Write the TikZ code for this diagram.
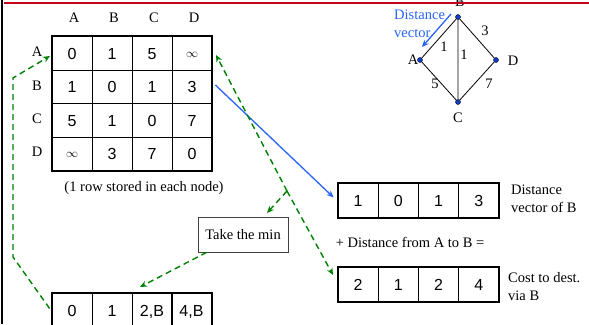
\documentclass[tikz,border=0pt]{standalone}
\usepackage{fontspec}
\setmainfont{Liberation Serif}
\newfontfamily\arialf{Liberation Sans}
\usetikzlibrary{arrows.meta}
\definecolor{dgreen}{RGB}{0,128,0}
\definecolor{vblue}{RGB}{40,100,250}
\definecolor{dotblue}{RGB}{20,60,200}
\definecolor{topred}{RGB}{195,0,30}
\newcommand{\infsym}{\raisebox{2pt}{\fontsize{12}{12}\selectfont$\infty$}}
\begin{document}
\begin{tikzpicture}[x=1pt,y=-1pt,
  lab/.style={font=\fontsize{14.5}{18}\selectfont, inner sep=0},
  cell/.style={draw, line width=0.8pt, minimum width=40pt, minimum height=33.5pt, inner sep=0, text height=11.5pt, text depth=0pt, font=\arialf\fontsize{16}{18}\selectfont},
  vcell/.style={cell, minimum width=40.25pt, minimum height=35pt},
  gd/.style={draw=dgreen, line width=1.4pt, dash pattern=on 6pt off 4pt, -{Stealth[length=7pt,width=6pt]}},
  bl/.style={draw=vblue, line width=1.3pt, -{Stealth[length=7pt,width=6pt]}},
  gnode/.style={circle, fill=dotblue, draw=black, line width=0.4pt, inner sep=0, minimum size=5pt},
  edge/.style={draw=black, line width=0.8pt}]
\useasboundingbox (0,0) rectangle (589,324);

% matrix
\foreach \v [count=\j] in {0,1,5,\infsym}
  \node[cell] (mA\j) at ({32+40*\j},53.5) {\v};
\foreach \v [count=\j] in {1,0,1,3}
  \node[cell] (mB\j) at ({32+40*\j},87) {\v};
\foreach \v [count=\j] in {5,1,0,7}
  \node[cell] (mC\j) at ({32+40*\j},120.5) {\v};
\foreach \v [count=\j] in {\infsym,3,7,0}
  \node[cell] (mD\j) at ({32+40*\j},154) {\v};
\draw[line width=2pt] (mA1.north west) rectangle (mD4.south east);
\foreach \c [count=\j] in {A,B,C,D}
  \node[lab] (h\c) at ({34+40*\j},18) {\c};
\foreach \c/\y in {A/52,B/86,C/119,D/152}
  \node[lab] (r\c) at (37,\y) {\c};
\node[lab] (cap) at (144,188) {(1 row stored in each node)};

% vector of B
\foreach \v [count=\j] in {1,0,1,3}
  \node[vcell] (v\j) at ({317.9+40.25*\j},200.5) {\v};
\draw[line width=2pt] (v1.north west) rectangle (v4.south east);
\node[lab, anchor=west, align=left] (vtxt) at (511,199) {Distance\\vector of B};

\node[lab] (plus) at (410,242) {+ Distance from A to B =};

% cost to dest
\foreach \v [count=\j] in {2,1,2,4}
  \node[vcell] (c\j) at ({317.9+40.25*\j},284.5) {\v};
\draw[line width=2pt] (c1.north west) rectangle (c4.south east);
\node[lab, anchor=west, align=left] (ctxt) at (508,287) {Cost to dest.\\via B};

% take the min
\node[lab, draw=black!75, line width=0.7pt, minimum width=90pt, minimum height=35pt] (tm) at (243,234.5) {Take the min};

% result row
\foreach \v/\x [count=\j] in {0/72,1/112,{2,B}/152,{4,B}/191.5}
  \node[vcell, minimum width=40pt] (b\j) at (\x,310.5) {\v};
\draw[line width=2pt] (b1.south west) -- (b1.north west) -- (b4.north east) -- (b4.south east);

% graph
\node[lab] (lB) at (460,2) {B};
\draw[topred, line width=2.6pt] (4,3) -- (589,3);
\draw[line width=2pt] (2,0) -- (2,324);
\node[gnode] (gB) at (458,17) {};
\node[gnode] (gA) at (420,60) {};
\node[gnode] (gD) at (496,60) {};
\node[gnode] (gC) at (458,102) {};
\draw[edge] (gA) -- (gB) (gB) -- (gD) (gB) -- (gC) (gA) -- (gC) (gC) -- (gD);
\node[lab] (lA) at (413,60) {A};
\node[lab] (lD) at (513,61) {D};
\node[lab] (lC) at (458,118) {C};
\node[lab] (e1) at (444,47) {1};
\node[lab] (e2) at (464,55) {1};
\node[lab] (e3) at (485,31) {3};
\node[lab] (e5) at (435,84) {5};
\node[lab] (e7) at (489,84) {7};
\node[lab, text=vblue, anchor=west, align=left] (dv) at (394,24) {Distance\\vector};
\coordinate (dvs) at (451,14);
\coordinate (dve) at (422,47);
\draw[bl] (dvs) -- (dve);

% blue arrow
\draw[bl] ([xshift=3pt,yshift=2pt]mB4.east) -- ([xshift=-4pt,yshift=3pt]v1.west);

% green dashed
\coordinate (fork) at (287,191);
\coordinate (mtop) at (216,55);
\coordinate (tmtop) at (267,213);
\coordinate (ctop) at (333,275);
\coordinate (btop) at (140,287);
\coordinate (rowA) at (50,56);
\draw[gd] (fork) -- (mtop);
\draw[gd] (fork) -- (tmtop);
\draw[gd] (fork) -- (ctop);
\draw[gd] ([xshift=9pt]tm.south west) -- (btop);
\draw[gd] ([xshift=-2pt,yshift=2pt]b1.west) -- (13,257) -- (13,78) -- (rowA);
\end{tikzpicture}
\end{document}
